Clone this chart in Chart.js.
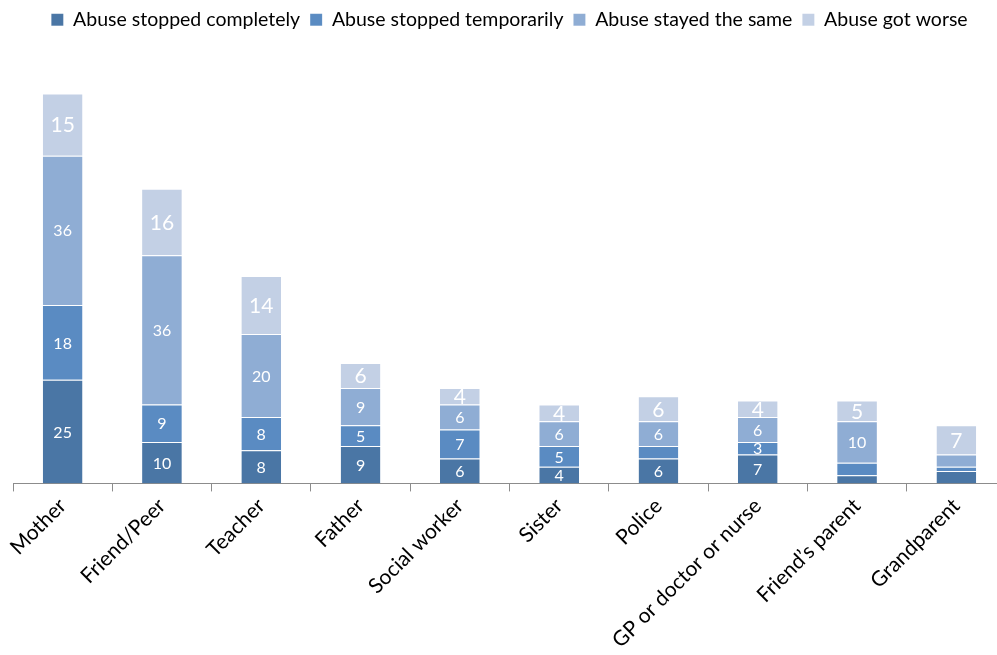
<!DOCTYPE html>
<html>
<head>
<meta charset="utf-8">
<script src="https://cdn.jsdelivr.net/npm/chart.js@4.4.1/dist/chart.umd.min.js"></script>
<style>
  html, body { margin: 0; padding: 0; background: #fff; overflow: hidden; }
  #wrap { position: absolute; left: 0; top: 0; width: 1006px; height: 655px; }
</style>
</head>
<body>
<div id="wrap"><canvas id="c"></canvas></div>
<script>
const categories = ["Mother", "Friend/Peer", "Teacher", "Father", "Social worker", "Sister", "Police", "GP or doctor or nurse", "Friend\u2019s parent", "Grandparent"];
const seriesNames = ["Abuse stopped completely", "Abuse stopped temporarily", "Abuse stayed the same", "Abuse got worse"];
const stoppedCompletely = [25, 10, 8, 9, 6, 4, 6, 7, 2, 3];
const stoppedTemporarily = [18, 9, 8, 5, 7, 5, 3, 3, 3, 1];
const stayedSame = [36, 36, 20, 9, 6, 6, 6, 6, 10, 3];
const gotWorse = [15, 16, 14, 6, 4, 4, 6, 4, 5, 7];
// labels not printed in the original (series index, category index)
const unlabeled = [[0, 8], [1, 8], [0, 9], [1, 9], [2, 9], [1, 6]];

const colors = ["#4a76a5", "#5a8bc2", "#8fadd4", "#c3d0e5"];
const allSeries = [stoppedCompletely, stoppedTemporarily, stayedSame, gotWorse];
const FONT = 'Lato, "Open Sans", sans-serif';

const labelPlugin = {
  id: 'segLabels',
  afterDatasetsDraw(chart) {
    const ctx = chart.ctx;
    ctx.save();
    ctx.textAlign = 'center';
    ctx.textBaseline = 'middle';
    ctx.fillStyle = '#ffffff';
    chart.data.datasets.forEach((ds, di) => {
      const meta = chart.getDatasetMeta(di);
      ctx.font = (di === 3 ? '21px ' : '16px ') + FONT;
      meta.data.forEach((bar, i) => {
        if (unlabeled.some(p => p[0] === di && p[1] === i)) return;
        const v = ds.data[i];
        const y = (bar.y + bar.base) / 2;
        ctx.fillText(String(v), bar.x, y + 1);
      });
    });
    ctx.restore();
  }
};

const legendSpace = {
  id: 'legendSpace',
  afterInit(chart) {
    const lg = chart.legend;
    if (!lg) return;
    const orig = lg.fit;
    lg.fit = function () { orig.call(this); this.height += 29; };
  }
};

new Chart(document.getElementById('c'), {
  type: 'bar',
  data: {
    labels: categories,
    datasets: allSeries.map((d, i) => ({
      label: seriesNames[i],
      data: d,
      backgroundColor: colors[i],
      borderColor: 'rgba(255,255,255,0.35)',
      borderWidth: { top: 1 },
      borderSkipped: false,
      barPercentage: 0.8,
      categoryPercentage: 0.5
    }))
  },
  options: {
    responsive: true,
    maintainAspectRatio: false,
    animation: false,
    layout: { padding: { left: 13, right: 0, top: 0, bottom: 0 } },
    plugins: {
      legend: {
        position: 'top',
        labels: {
          boxWidth: 12,
          boxHeight: 12,
          padding: 10,
          color: '#000',
          font: { family: FONT, size: 19.5 }
        }
      },
      tooltip: { enabled: false }
    },
    scales: {
      x: {
        stacked: true,
        grid: { offset: true, drawOnChartArea: false, drawTicks: true, tickLength: 8, color: '#8c8c8c' },
        border: { display: true, color: '#8c8c8c', width: 1 },
        ticks: {
          color: '#000',
          font: { family: FONT, size: 21 },
          maxRotation: 45,
          minRotation: 45,
          autoSkip: false,
          padding: 2
        }
      },
      y: {
        stacked: true,
        display: false,
        min: 0,
        max: 100
      }
    }
  },
  plugins: [labelPlugin, legendSpace]
});
</script>
</body>
</html>
